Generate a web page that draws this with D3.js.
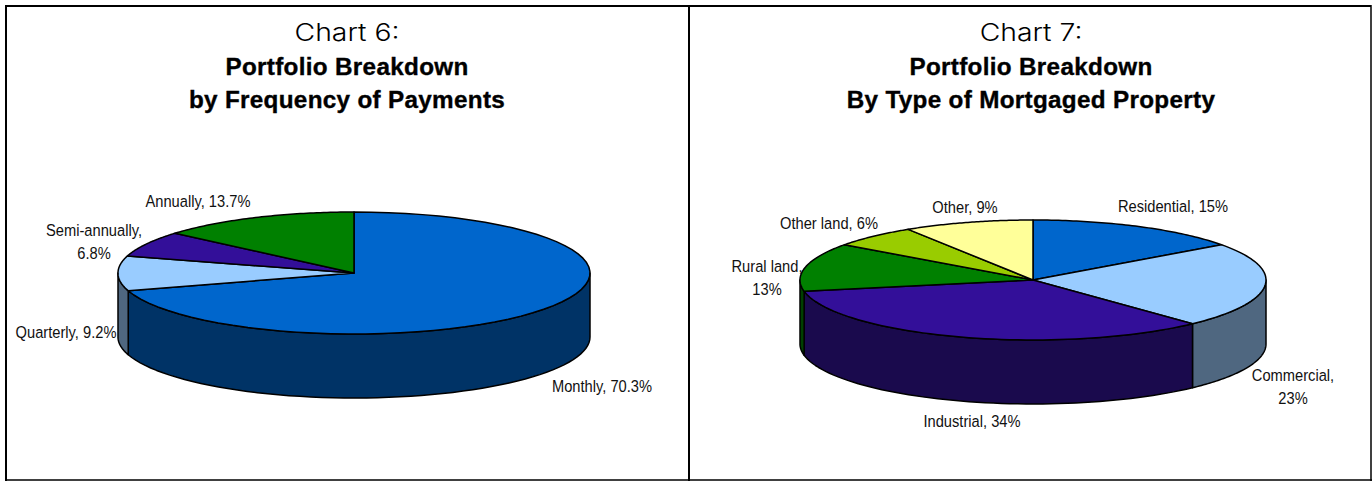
<!DOCTYPE html>
<html>
<head>
<meta charset="utf-8">
<script src="https://cdn.jsdelivr.net/npm/d3@7"></script>
<style>
html,body{margin:0;padding:0;background:#fff;}
svg{display:block;}
.head1{font-family:"Inter","Liberation Sans",sans-serif;font-weight:300;font-size:24px;fill:#000;}
.head2{font-family:"Liberation Sans",sans-serif;font-weight:700;font-size:23px;fill:#000;letter-spacing:.3px;stroke:#000;stroke-width:.35px;}
.lbl{font-family:"Liberation Sans",sans-serif;font-size:16.5px;fill:#111;}
</style>
</head>
<body>
<svg id="chart" width="1372" height="481"></svg>
<script>
// Chart 6: payment frequency
const freqNames = ["Monthly","Quarterly","Semi-annually","Annually"];
const freqValues = [70.3,9.2,6.8,13.7];
const freqTop = ["#0066cc","#99ccff","#330f99","#008000"];
const freqSide = ["#003366","#4f6780","#1a0a4d","#004000"];
const freqTitle = ["Portfolio Breakdown","by Frequency of Payments"];
const freqLabels = [["Monthly, 70.3%"],["Quarterly, 9.2%"],["Semi-annually,","6.8%"],["Annually, 13.7%"]];

// Chart 7: mortgaged property type
const propNames = ["Residential","Commercial","Industrial","Rural land","Other land","Other"];
const propValues = [15,23,34,13,6,9];
const propTop = ["#0066cc","#99ccff","#330f99","#008000","#99cc00","#ffff99"];
const propSide = ["#003366","#4f6780","#1a0a4d","#004000","#4d6600","#808050"];
const propTitle = ["Portfolio Breakdown","By Type of Mortgaged Property"];
const propLabels = [["Residential, 15%"],["Commercial,","23%"],["Industrial, 34%"],["Rural land,","13%"],["Other land, 6%"],["Other, 9%"]];

const svg = d3.select("#chart");

function tiltedPie(cfg){
  const g = svg.append("g");
  const pt = (a,dy=0)=>[cfg.cx+cfg.rx*Math.sin(a), cfg.cy-cfg.ry*Math.cos(a)+dy];
  const line = d3.line().curve(d3.curveLinear);
  const arcPts = (a0,a1,dy=0)=>d3.range(0,61).map(i=>pt(a0+(a1-a0)*i/60,dy));
  const arcs = d3.pie().sort(null)(cfg.values);

  // extruded wall, only the part of each slice on the near half of the rim
  arcs.forEach((d,i)=>{
    const a0=Math.max(d.startAngle,Math.PI/2), a1=Math.min(d.endAngle,Math.PI*1.5);
    if(a1<=a0) return;
    const pts=arcPts(a0,a1).concat(arcPts(a0,a1,cfg.depth).reverse());
    g.append("path").attr("d",line(pts)+"Z")
      .attr("fill",cfg.side[i]).attr("stroke","#000").attr("stroke-width",1.5).attr("stroke-linejoin","round");
  });
  // top face
  arcs.forEach((d,i)=>{
    const pts=[[cfg.cx,cfg.cy]].concat(arcPts(d.startAngle,d.endAngle));
    g.append("path").attr("d",line(pts)+"Z")
      .attr("fill",cfg.top[i]).attr("stroke","#000").attr("stroke-width",1.5).attr("stroke-linejoin","round");
  });
}

function heading(x,num,lines){
  // the heading face is wider than anything installed, so it is stretched sideways
  svg.append("text").attr("class","head1").attr("text-anchor","middle")
    .attr("transform",`translate(${x},41) scale(1.18,1)`).text(num);
  lines.forEach((t,i)=>svg.append("text").attr("class","head2").attr("text-anchor","middle")
    .attr("transform",`translate(${x},${75+i*33}) scale(1.055,1)`).text(t));
}

function labels(list,spots){
  // condensed label face: regular sans squeezed horizontally
  list.forEach((rows,i)=>rows.forEach((t,j)=>{
    svg.append("text").attr("class","lbl").attr("text-anchor","middle")
      .attr("transform",`translate(${spots[i][0]},${spots[i][1]+j*23}) scale(0.89,1)`).text(t);
  }));
}

// panel frames
const frame = [[6,6,1371,6],[6,5,6,481],[5,480,1372,480],[1371,5,1371,481],[689,6,689,481]];
svg.selectAll("line.frame").data(frame).join("line").attr("class","frame")
  .attr("x1",d=>d[0]).attr("y1",d=>d[1]).attr("x2",d=>d[2]).attr("y2",d=>d[3])
  .attr("stroke","#000").attr("stroke-width",(d,i)=>i===2||i===3?1.5:2);

heading(347,"Chart 6:",freqTitle);
heading(1031,"Chart 7:",propTitle);

tiltedPie({cx:354,cy:273,rx:236,ry:61,depth:64,values:freqValues,top:freqTop,side:freqSide});
tiltedPie({cx:1033,cy:280,rx:233,ry:60,depth:64,values:propValues,top:propTop,side:propSide});

labels(freqLabels,[[602,392],[66,338],[94,236],[198,207]]);
labels(propLabels,[[1173,212],[1293,381],[972,427],[767,272],[829,229],[965,213]]);
</script>
</body>
</html>
